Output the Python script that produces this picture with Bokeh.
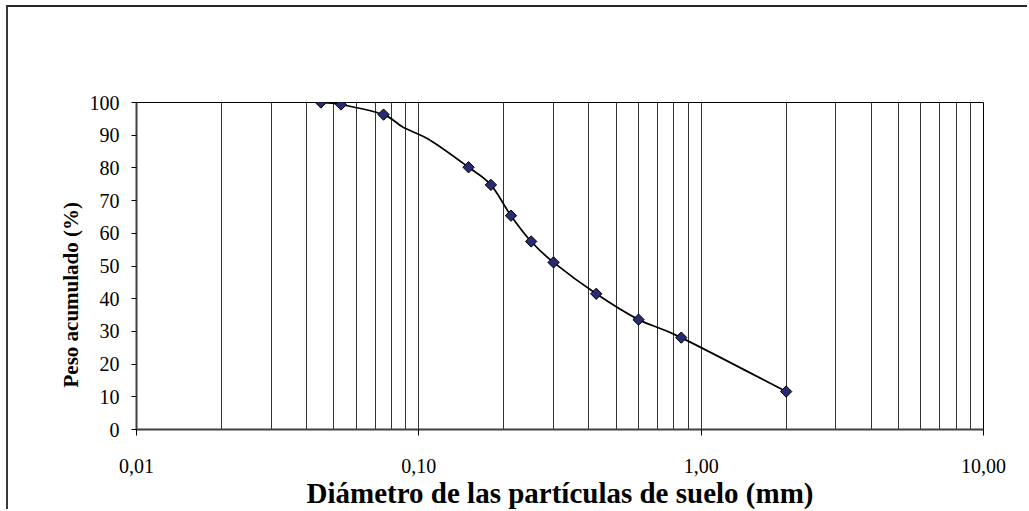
import math
from bokeh.plotting import figure
from bokeh.models import FixedTicker, Range1d, ColumnDataSource, Title
from bokeh.embed import file_html
from bokeh.resources import INLINE

# ---- data ----
diam_mm = [0.045, 0.053, 0.075, 0.15, 0.18, 0.212, 0.25, 0.30, 0.425, 0.60, 0.85, 2.0]
peso_pct = [100.0, 99.4, 96.3, 80.2, 74.8, 65.4, 57.5, 51.1, 41.5, 33.6, 28.1, 11.6]

curve_x = [0.033, 0.045, 0.053, 0.075, 0.088, 0.11, 0.15, 0.18, 0.212, 0.25, 0.30, 0.425, 0.60, 0.85, 2.0]
curve_y = [100.8, 100.0, 99.4, 96.3, 92.4, 88.4, 80.2, 74.8, 65.4, 57.5, 51.1, 41.5, 33.6, 28.1, 11.6]

x_ticks = [0.01, 0.1, 1, 10]
x_tick_labels = ["0,01", "0,10", "1,00", "10,00"]
y_ticks = list(range(0, 101, 10))

x_title = "Diámetro de las partículas de suelo (mm)"
y_title = "Peso acumulado (%)"

FONT = "Liberation Serif"

p = figure(width=1021, height=504, x_axis_type="log",
           x_range=Range1d(0.01, 10), y_range=Range1d(0, 100),
           output_backend="svg", toolbar_location=None,
           min_border_left=128, min_border_top=95,
           min_border_right=46, min_border_bottom=82,
           background_fill_color="white", border_fill_color="white")
p.styles = {"margin-left": "6px", "margin-top": "5px",
            "border-top": "2px solid #262626", "border-left": "2px solid #3a3a3a"}

p.outline_line_color = "black"
p.outline_line_width = 1

# x axis
minor = [m * 10.0 ** e for e in (-2, -1, 0) for m in range(2, 10)]
p.xaxis.ticker = FixedTicker(ticks=x_ticks, minor_ticks=minor)
p.xaxis.major_label_overrides = {t: l for t, l in zip(x_ticks, x_tick_labels)}
p.xaxis.major_label_text_font = FONT
p.xaxis.major_label_text_font_size = "20px"
p.xaxis.major_label_text_color = "black"
p.xaxis.major_label_standoff = 23
p.xaxis.major_tick_out = 6
p.xaxis.major_tick_in = 0
p.xaxis.minor_tick_out = 0
p.xaxis.minor_tick_in = 0
p.xaxis.axis_line_color = "#404040"
p.xaxis.axis_line_width = 2
p.xaxis.major_tick_line_color = "black"
p.xaxis.axis_label = x_title
p.xaxis.axis_label_text_font = FONT
p.xaxis.axis_label_text_font_style = "bold"
p.xaxis.axis_label_text_font_size = "29px"
p.xaxis.axis_label_text_color = "black"
p.xaxis.axis_label_standoff = 1

# y axis
p.yaxis.ticker = FixedTicker(ticks=y_ticks)
p.yaxis.major_label_text_font = FONT
p.yaxis.major_label_text_font_size = "20px"
p.yaxis.major_label_text_color = "black"
p.yaxis.major_label_standoff = 12
p.yaxis.major_tick_out = 5
p.yaxis.major_tick_in = 0
p.yaxis.minor_tick_line_color = None
p.yaxis.axis_line_color = "#404040"
p.yaxis.axis_line_width = 2
p.yaxis.major_tick_line_color = "black"

# y-axis title, set a little below the frame's centre as in the reference
p.add_layout(Title(text=y_title, align="left", offset=42, standoff=8,
                   text_font=FONT, text_font_style="bold",
                   text_font_size="21px", text_color="black"), "left")

# grids: vertical lines at every decade subdivision
p.xgrid.grid_line_color = "#333333"
p.xgrid.grid_line_width = 1
p.xgrid.minor_grid_line_color = "#333333"
p.xgrid.minor_grid_line_width = 1
p.ygrid.grid_line_color = None

# smoothed curve (Catmull-Rom -> cubic Bezier in log-x space)
lx = [math.log10(v) for v in curve_x]
n = len(lx)
seg = dict(x0=[], y0=[], x1=[], y1=[], cx0=[], cy0=[], cx1=[], cy1=[])
for i in range(n - 1):
    im = max(i - 1, 0)
    ip2 = min(i + 2, n - 1)
    c0x = lx[i] + (lx[i + 1] - lx[im]) / 6.0
    c0y = curve_y[i] + (curve_y[i + 1] - curve_y[im]) / 6.0
    c1x = lx[i + 1] - (lx[ip2] - lx[i]) / 6.0
    c1y = curve_y[i + 1] - (curve_y[ip2] - curve_y[i]) / 6.0
    seg["x0"].append(curve_x[i]); seg["y0"].append(curve_y[i])
    seg["x1"].append(curve_x[i + 1]); seg["y1"].append(curve_y[i + 1])
    seg["cx0"].append(10 ** c0x); seg["cy0"].append(c0y)
    seg["cx1"].append(10 ** c1x); seg["cy1"].append(c1y)
p.bezier(x0="x0", y0="y0", x1="x1", y1="y1", cx0="cx0", cy0="cy0",
         cx1="cx1", cy1="cy1", source=ColumnDataSource(seg),
         line_color="black", line_width=1.7)

# markers
p.scatter(diam_mm, peso_pct, marker="square", angle=math.pi / 4, size=8,
          fill_color="#262B73", line_color="black", line_width=1)

open("out.html", "w").write(file_html(p, INLINE))
